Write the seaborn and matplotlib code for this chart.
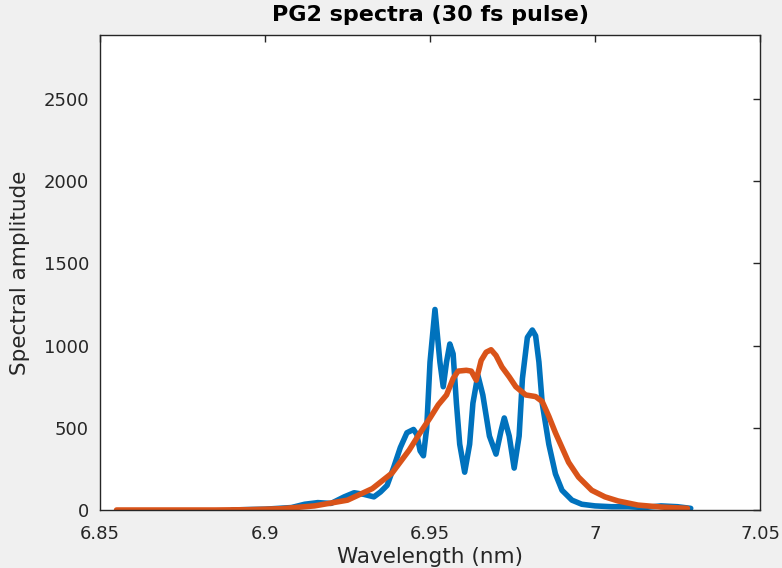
import numpy as np
import pandas as pd
import matplotlib
matplotlib.use("Agg")
import matplotlib.pyplot as plt
import seaborn as sns

# Blue spectrum
blue_wl = [6.890, 6.895, 6.900, 6.908, 6.912, 6.916, 6.920, 6.924, 6.927, 6.930,
           6.933, 6.935, 6.937, 6.939, 6.941, 6.943, 6.945, 6.946, 6.947, 6.948,
           6.949, 6.950, 6.9515, 6.953, 6.954, 6.955, 6.956, 6.957, 6.958, 6.959,
           6.9605, 6.962, 6.963, 6.9645, 6.966, 6.968, 6.970, 6.9715, 6.9725, 6.974,
           6.9755, 6.977, 6.978, 6.9795, 6.981, 6.982, 6.983, 6.984, 6.986, 6.988,
           6.990, 6.993, 6.996, 7.000, 7.005, 7.010, 7.015, 7.020, 7.025, 7.029]
blue_amp = [0, 3, 5, 15, 35, 45, 40, 80, 105, 95,
            80, 110, 150, 260, 380, 470, 490, 460, 360, 330,
            500, 900, 1220, 900, 750, 900, 1010, 950, 650, 400,
            230, 400, 650, 820, 700, 450, 340, 480, 560, 450,
            255, 450, 800, 1050, 1095, 1060, 900, 650, 400, 220,
            120, 60, 35, 25, 20, 20, 15, 25, 20, 10]

# Orange spectrum
orange_wl = [6.855, 6.870, 6.885, 6.895, 6.905, 6.915, 6.925, 6.9325, 6.9385, 6.9437,
             6.947, 6.950, 6.9525, 6.955, 6.957, 6.9585, 6.961, 6.9625, 6.964, 6.9655,
             6.967, 6.9685, 6.970, 6.9718, 6.974, 6.976, 6.979, 6.982, 6.984, 6.986,
             6.988, 6.990, 6.992, 6.995, 6.999, 7.003, 7.007, 7.013, 7.020, 7.028]
orange_amp = [0, 0, 0, 2, 8, 25, 60, 130, 225, 365,
              470, 560, 640, 700, 800, 845, 850, 845, 790, 910,
              960, 975, 940, 870, 810, 750, 700, 690, 660, 570,
              470, 380, 290, 200, 120, 80, 55, 30, 18, 10]

x_ticks = [6.85, 6.9, 6.95, 7.0, 7.05]
x_tick_labels = ["6.85", "6.9", "6.95", "7", "7.05"]
y_ticks = [0, 500, 1000, 1500, 2000, 2500]

sns.set_style("white")
plt.rcParams['font.family'] = ['DejaVu Sans']

fig = plt.figure(figsize=(7.82, 5.68), dpi=100, facecolor="#f0f0f0")
ax = fig.add_axes([0.1279, 0.1021, 0.8440, 0.8363])
ax.set_facecolor("white")

df_b = pd.DataFrame({"wl": blue_wl, "amp": blue_amp})
df_o = pd.DataFrame({"wl": orange_wl, "amp": orange_amp})
sns.lineplot(data=df_b, x="wl", y="amp", ax=ax, color="#0072BD", lw=4, sort=False)
sns.lineplot(data=df_o, x="wl", y="amp", ax=ax, color="#D95319", lw=4, sort=False)

ax.set_xlim(6.85, 7.05)
ax.set_ylim(0, 2890)
ax.set_xticks(x_ticks)
ax.set_xticklabels(x_tick_labels)
ax.set_yticks(y_ticks)
dark = "#262626"
for s in ax.spines.values():
    s.set_visible(True)
    s.set_color(dark)
    s.set_linewidth(1.0)
ax.tick_params(direction="in", top=True, right=True, length=5, width=1,
               colors=dark, labelsize=13)
ax.tick_params(axis="x", pad=11)
ax.tick_params(axis="y", pad=8)
ax.set_xlabel("Wavelength (nm)", fontsize=15.5, color=dark, labelpad=3)
ax.set_ylabel("Spectral amplitude", fontsize=15.5, color=dark, labelpad=10)
ax.set_title("PG2 spectra (30 fs pulse)", fontsize=16, fontweight="bold", color="black", pad=10)

fig.savefig("out.png", dpi=100, facecolor=fig.get_facecolor())
